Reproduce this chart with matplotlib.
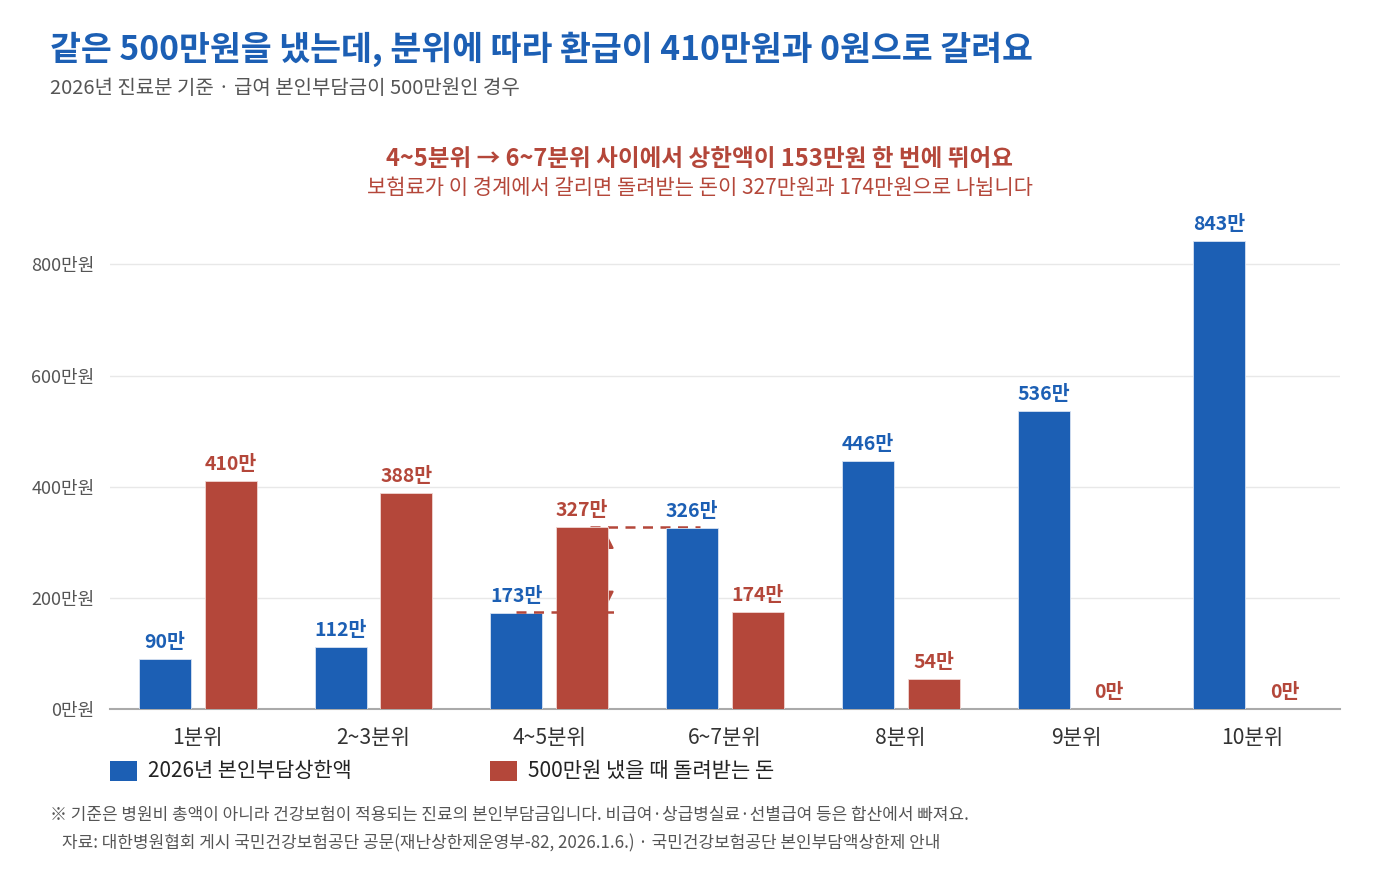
import matplotlib
matplotlib.use("Agg")
import matplotlib.pyplot as plt
from matplotlib.patches import Rectangle
import numpy as np

plt.rcParams['font.family'] = ['Noto Sans CJK KR', 'DejaVu Sans']

categories = ["1분위", "2~3분위", "4~5분위", "6~7분위", "8분위", "9분위", "10분위"]
cap_2026 = [90, 112, 173, 326, 446, 536, 843]
refund_500 = [410, 388, 327, 174, 54, 0, 0]
y_ticks = [0, 200, 400, 600, 800]
y_tick_labels = ["0만원", "200만원", "400만원", "600만원", "800만원"]
legend_labels = ["2026년 본인부담상한액", "500만원 냈을 때 돌려받는 돈"]

BLUE = "#1c5fb4"
RED = "#b4473a"
W, H = 1400, 880

fig = plt.figure(figsize=(14, 8.8), dpi=100)
fig.patch.set_facecolor("white")
ax = fig.add_axes([110 / W, 1 - 709 / H, (1340 - 110) / W, (709 - 220) / H])

x = np.arange(len(categories))
bw = 0.296
off = 0.187
ax.bar(x - off, cap_2026, width=bw, color=BLUE, edgecolor="#d8e2f2", linewidth=0.6, zorder=3)
ax.bar(x + off, refund_500, width=bw, color=RED, edgecolor="#f0d6d2", linewidth=0.6, zorder=3)

for i, v in enumerate(cap_2026):
    ax.annotate(f"{v}만", (x[i] - off, v), xytext=(0, 5), textcoords="offset points",
                ha="center", va="bottom", fontsize=14, fontweight="bold", color=BLUE, zorder=5)
for i, v in enumerate(refund_500):
    ax.annotate(f"{v}만", (x[i] + off, v), xytext=(0, 5), textcoords="offset points",
                ha="center", va="bottom", fontsize=14, fontweight="bold", color=RED, zorder=5)

# dashed guides and jump arrow between 4~5 and 6~7
ax.plot([2.23, 2.86], [refund_500[2], refund_500[2]], ls=(0, (4, 3)), color=RED, lw=1.8, zorder=2)
ax.plot([1.81, 2.39], [refund_500[3], refund_500[3]], ls=(0, (4, 3)), color=RED, lw=1.8, zorder=4)
ax.annotate("", xy=(2.316, refund_500[2]), xytext=(2.316, refund_500[3]),
            arrowprops=dict(arrowstyle="<|-|>", color=RED, lw=1.5, mutation_scale=28), zorder=2)

ax.set_xlim(-0.5, 6.5)
ax.set_ylim(0, 880)
ax.set_yticks(y_ticks)
ax.set_yticklabels(y_tick_labels, fontsize=13, color="#555555")
ax.set_xticks(x)
ax.set_xticklabels(categories, fontsize=15.2, color="#333333")
ax.tick_params(axis="both", length=0)
ax.tick_params(axis="y", pad=11)
ax.tick_params(axis="x", pad=13)
ax.grid(axis="y", color="#e8e8e8", lw=1, zorder=0)
for s in ["top", "right", "left"]:
    ax.spines[s].set_visible(False)
ax.spines["bottom"].set_color("#aaaaaa")
ax.spines["bottom"].set_linewidth(1.5)

# titles
fig.text(50 / W, 1 - 49 / H, "같은 500만원을 냈는데, 분위에 따라 환급이 410만원과 0원으로 갈려요",
         fontsize=24.2, fontweight="bold", color=BLUE, ha="left", va="center")
fig.text(50 / W, 1 - 89 / H, "2026년 진료분 기준 · 급여 본인부담금이 500만원인 경우",
         fontsize=14.4, color="#555555", ha="left", va="center")
fig.text(699 / W, 1 - 159 / H, "4~5분위 → 6~7분위 사이에서 상한액이 153만원 한 번에 뛰어요",
         fontsize=17, fontweight="bold", color=RED, ha="center", va="center")
fig.text(700 / W, 1 - 188 / H, "보험료가 이 경계에서 갈리면 돌려받는 돈이 327만원과 174만원으로 나뉩니다",
         fontsize=15.1, color=RED, ha="center", va="center")

# legend
fig.add_artist(Rectangle((110 / W, 1 - 781 / H), 27 / W, 20 / H, transform=fig.transFigure,
                         facecolor=BLUE, edgecolor="none"))
fig.text(148 / W, 1 - 771 / H, legend_labels[0], fontsize=15, color="#222222", ha="left", va="center")
fig.add_artist(Rectangle((490 / W, 1 - 781 / H), 27 / W, 20 / H, transform=fig.transFigure,
                         facecolor=RED, edgecolor="none"))
fig.text(528 / W, 1 - 771 / H, legend_labels[1], fontsize=15.1, color="#222222", ha="left", va="center")

# notes
fig.text(50 / W, 1 - 815 / H,
         "※ 기준은 병원비 총액이 아니라 건강보험이 적용되는 진료의 본인부담금입니다. 비급여·상급병실료·선별급여 등은 합산에서 빠져요.",
         fontsize=12.2, color="#555555", ha="left", va="center")
fig.text(62 / W, 1 - 843 / H,
         "자료: 대한병원협회 게시 국민건강보험공단 공문(재난상한제운영부-82, 2026.1.6.) · 국민건강보험공단 본인부담액상한제 안내",
         fontsize=12.2, color="#555555", ha="left", va="center")

fig.savefig("out.png", dpi=100)
